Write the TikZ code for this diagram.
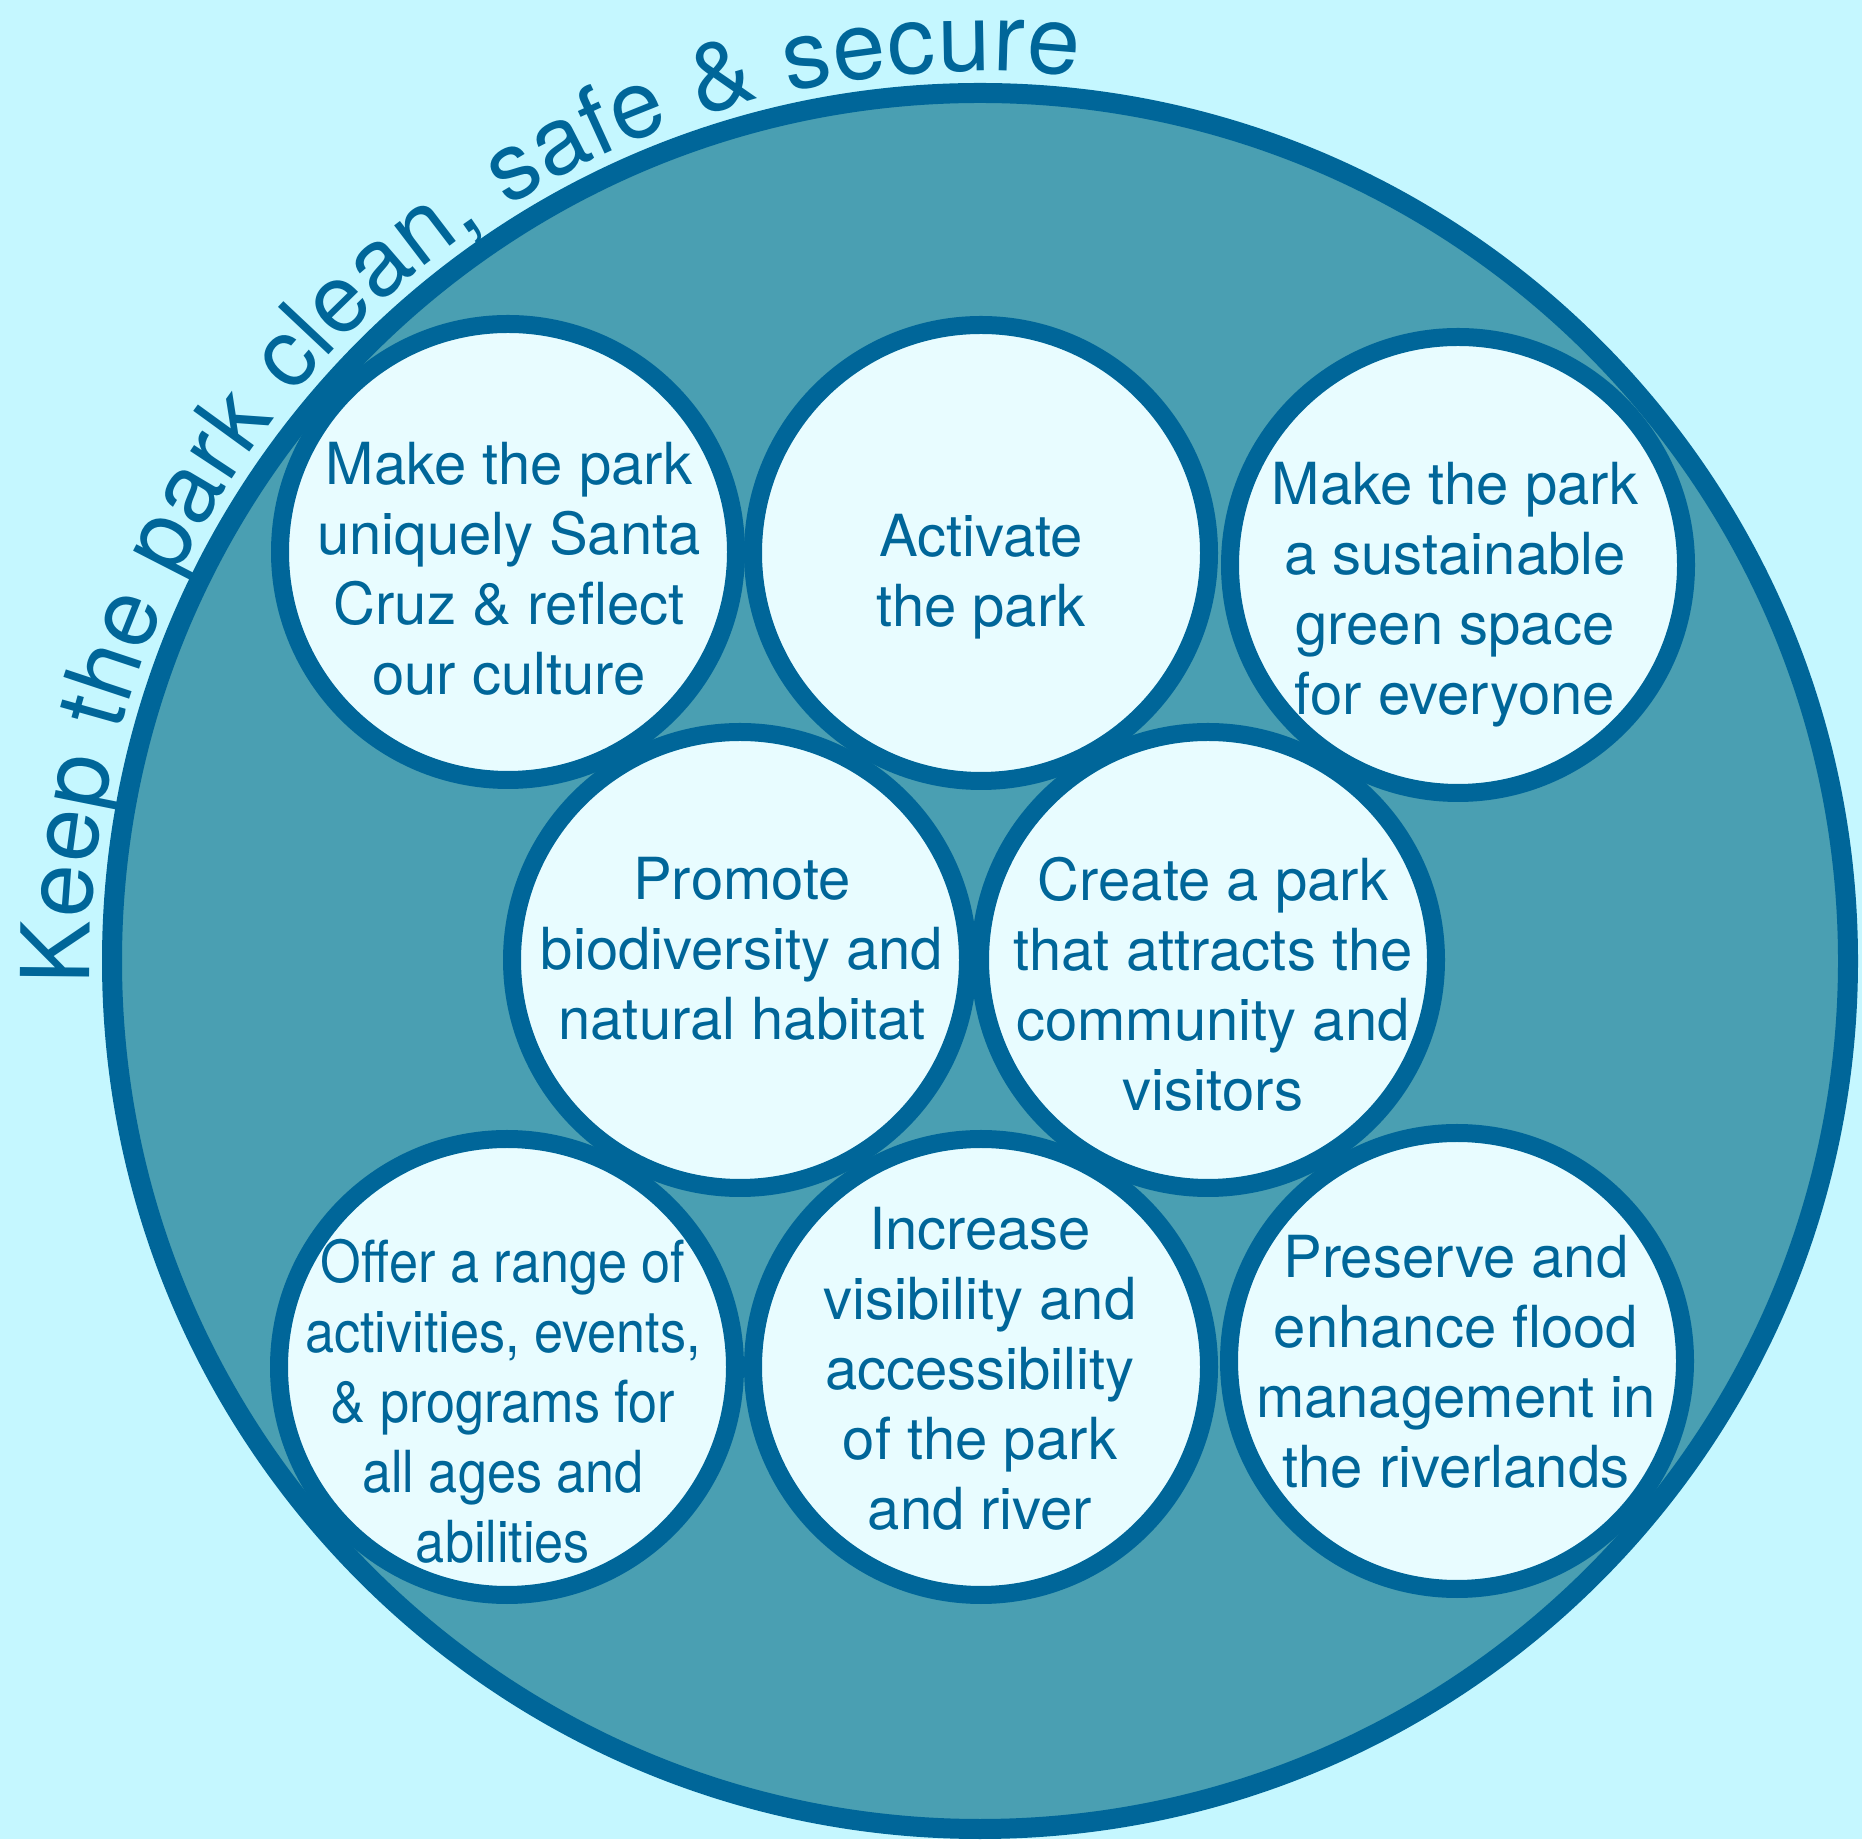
\documentclass[tikz,border=0pt]{standalone}
\usepackage{fontspec}
\setmainfont{TeX Gyre Heros}
\usetikzlibrary{decorations.text}

\definecolor{ink}{HTML}{006699}
\definecolor{sky}{HTML}{C5F7FF}
\definecolor{pool}{HTML}{4A9FB2}
\definecolor{foam}{HTML}{E8FCFF}
\newcommand{\goalfont}{\fontsize{58}{70}\selectfont}
\newcommand{\rimfont}{\fontsize{95}{114}\selectfont}

\begin{document}
\begin{tikzpicture}[x = 1pt, y = 1pt,
        park/.style = {circle, draw = ink, fill = pool, line width = 20pt, minimum size = 1736pt, inner sep = 0pt},
        goal/.style = {circle, draw = ink, fill = foam, line width = 18pt, minimum size = 456pt, inner sep = 0pt},
        words/.style = {font = \goalfont, text = ink, align = center, inner sep = 0pt}]
        \fill[sky] (0,0) rectangle (1862,1839);
        \useasboundingbox (0,0) rectangle (1862,1839);
        
        \node[park] (park) at (980,878) {};
        
        \path[decorate, decoration = {text along path, text color = ink, text align = {fit to path},
                text = {|\rimfont|Keep the park clean, safe {\&} secure}}]
                (park.center) ++(181.5:890) arc[start angle = 181.5, end angle = 83.7, radius = 890];
        
        \node[goal] (culture) at (508,1287) {};
        \node[goal] (activate) at (981,1286) {};
        \node[goal] (green) at (1458,1274) {};
        
        \node[goal] (activities) at (507,472) {};
        \node[goal] (access) at (981,472) {};
        \node[goal] (flood) at (1457,478) {};
        
        \node[goal] (habitat) at (740,879) {};
        \node[goal] (attract) at (1208,879) {};
        
        \node[words] (culturetext) at (509,1263) {\strut Make the park\\uniquely Santa\\Cruz \& reflect\\our culture\strut};
        \node[words] (activatetext) at (981,1261.5) {\strut Activate\\the park\strut};
        \node[words] (greentext) at (1455,1243.5) {\strut Make the park\\a sustainable\\green space\\for everyone\strut};
        \node[words] (habitattext) at (742,883) {\strut Promote\\biodiversity and\\natural habitat\strut};
        \node[words] (attracttext) at (1213,847) {\strut Create a park\\that attracts the\\community and\\visitors\strut};
        \node[words, font = {\goalfont\addfontfeature{FakeStretch = 0.9}}] (activitiestext) at (503,430.3)
                {\strut Offer a range of\\activities, events,\\\& programs for\\all ages and\\abilities\strut};
        \node[words] (accesstext) at (980,463.5) {\strut Increase\\visibility and\\accessibility\\of the park\\and river\strut};
        \node[words] (floodtext) at (1456,470) {\strut Preserve and\\enhance flood\\management in\\the riverlands\strut};
\end{tikzpicture}
\end{document}
